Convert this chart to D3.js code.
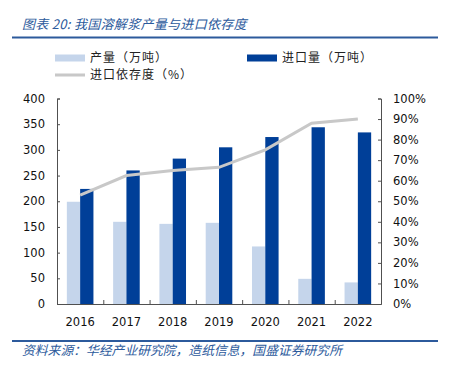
<!DOCTYPE html>
<html>
<head>
<meta charset="utf-8">
<script src="https://cdn.jsdelivr.net/npm/d3@7/dist/d3.min.js"></script>
<style>
  body { margin: 0; background: #fff; }
  svg { display: block; }
</style>
</head>
<body>
<div id="chart"></div>
<script>
// data
var years = ["2016", "2017", "2018", "2019", "2020", "2021", "2022"];
var production = [199, 160, 156, 158, 112, 49, 42];    // 产量（万吨）
var imports = [224, 260, 283, 305, 325, 344, 334];     // 进口量（万吨）
var dependency = [53, 62.5, 65, 66.5, 75, 88, 90];     // 进口依存度（%）
var leftTicks = [0, 50, 100, 150, 200, 250, 300, 350, 400];
var rightTicks = [0, 10, 20, 30, 40, 50, 60, 70, 80, 90, 100];

var width = 450, height = 374;
var cjk = "'Noto Sans CJK SC', sans-serif";
var num = "'DejaVu Sans', Verdana, sans-serif";
var blue = "#2C5A9C";

var svg = d3.select("#chart").append("svg")
    .attr("width", width)
    .attr("height", height);

// title + rules
svg.append("text")
    .attr("x", 22).attr("y", 29)
    .attr("font-family", cjk).attr("font-size", 13)
    .attr("font-style", "italic")
    .attr("letter-spacing", 0.3)
    .attr("fill", blue)
    .text("图表 20:  我国溶解浆产量与进口依存度");

svg.append("line")
    .attr("x1", 12).attr("x2", 438).attr("y1", 37.5).attr("y2", 37.5)
    .attr("stroke", blue).attr("stroke-width", 2);

svg.append("line")
    .attr("x1", 12).attr("x2", 438).attr("y1", 341).attr("y2", 341)
    .attr("stroke", blue).attr("stroke-width", 2);

svg.append("text")
    .attr("x", 22).attr("y", 355)
    .attr("font-family", cjk).attr("font-size", 12.8)
    .attr("font-style", "italic")
    .attr("fill", blue)
    .text("资料来源：华经产业研究院，造纸信息，国盛证券研究所");

// legend
var legend = [
    {label: "产量（万吨）", color: "#C5D5EB", x: 55, y: 58, type: "bar"},
    {label: "进口量（万吨）", color: "#003F98", x: 247, y: 58, type: "bar"},
    {label: "进口依存度（%）", color: "#C8C8C8", x: 55, y: 75, type: "line"}
];
var lg = svg.selectAll(".legend").data(legend).enter().append("g")
    .attr("class", "legend")
    .attr("transform", function (d) { return "translate(" + d.x + "," + d.y + ")"; });
lg.append("rect")
    .attr("x", 0).attr("width", 30)
    .attr("y", function (d) { return d.type == "bar" ? -3.5 : -1.5; })
    .attr("height", function (d) { return d.type == "bar" ? 7 : 3; })
    .attr("fill", function (d) { return d.color; });
lg.append("text")
    .attr("x", 35).attr("dy", "0.36em")
    .attr("font-family", cjk).attr("font-size", 12)
    .attr("letter-spacing", 1)
    .attr("fill", "#222")
    .text(function (d) { return d.label; });

// scales
var x0 = 57, x1 = 381, yTop = 98.5, yBot = 304;
var x = d3.scaleBand().domain(years).range([x0, x1]).paddingInner(0).paddingOuter(0);
var yL = d3.scaleLinear().domain([0, 400]).range([yBot, yTop]);
var yR = d3.scaleLinear().domain([0, 100]).range([yBot, yTop]);
var barW = 13.3;

// bars
svg.selectAll(".prod").data(production).enter().append("rect")
    .attr("x", function (d, i) { return x(years[i]) + x.bandwidth() / 2 - barW; })
    .attr("width", barW)
    .attr("y", function (d) { return yL(d); })
    .attr("height", function (d) { return yBot - yL(d); })
    .attr("fill", "#C5D5EB");

svg.selectAll(".imp").data(imports).enter().append("rect")
    .attr("x", function (d, i) { return x(years[i]) + x.bandwidth() / 2; })
    .attr("width", barW)
    .attr("y", function (d) { return yL(d); })
    .attr("height", function (d) { return yBot - yL(d); })
    .attr("fill", "#003F98");

// line
var line = d3.line()
    .x(function (d, i) { return x(years[i]) + x.bandwidth() / 2; })
    .y(function (d) { return yR(d); });
svg.append("path")
    .datum(dependency)
    .attr("d", line)
    .attr("fill", "none")
    .attr("stroke", "#C8C8C8")
    .attr("stroke-width", 3);

// axes
var axisColor = "#505050";
var gL = svg.append("g")
    .attr("transform", "translate(" + x0 + ",0)")
    .call(d3.axisRight(yL).tickValues(leftTicks).tickSize(3).tickFormat(""));
svg.selectAll(".ltick").data(leftTicks).enter().append("text")
    .attr("x", 45).attr("y", function (d) { return yL(d); })
    .attr("dy", "0.36em").attr("text-anchor", "end")
    .attr("font-family", num).attr("font-size", 11.5).attr("fill", "#111")
    .text(function (d) { return d; });

var gR = svg.append("g")
    .attr("transform", "translate(" + x1 + ",0)")
    .call(d3.axisLeft(yR).tickValues(rightTicks).tickSize(3).tickFormat(""));
svg.selectAll(".rtick").data(rightTicks).enter().append("text")
    .attr("x", 393).attr("y", function (d) { return yR(d); })
    .attr("dy", "0.36em").attr("text-anchor", "start")
    .attr("font-family", num).attr("font-size", 11.5).attr("fill", "#111")
    .text(function (d) { return d + "%"; });

var xb = d3.scaleLinear().domain([0, years.length]).range([x0, x1]);
var gX = svg.append("g")
    .attr("transform", "translate(0," + yBot + ")")
    .call(d3.axisTop(xb).ticks(years.length).tickSize(4).tickSizeOuter(0).tickFormat(""));
svg.selectAll(".xlab").data(years).enter().append("text")
    .attr("x", function (d) { return x(d) + x.bandwidth() / 2; })
    .attr("y", 326)
    .attr("text-anchor", "middle")
    .attr("font-family", num).attr("font-size", 11.5).attr("fill", "#111")
    .text(function (d) { return d; });

[gL, gR, gX].forEach(function (g) {
    g.selectAll("path, line").attr("stroke", axisColor);
});
</script>
</body>
</html>
